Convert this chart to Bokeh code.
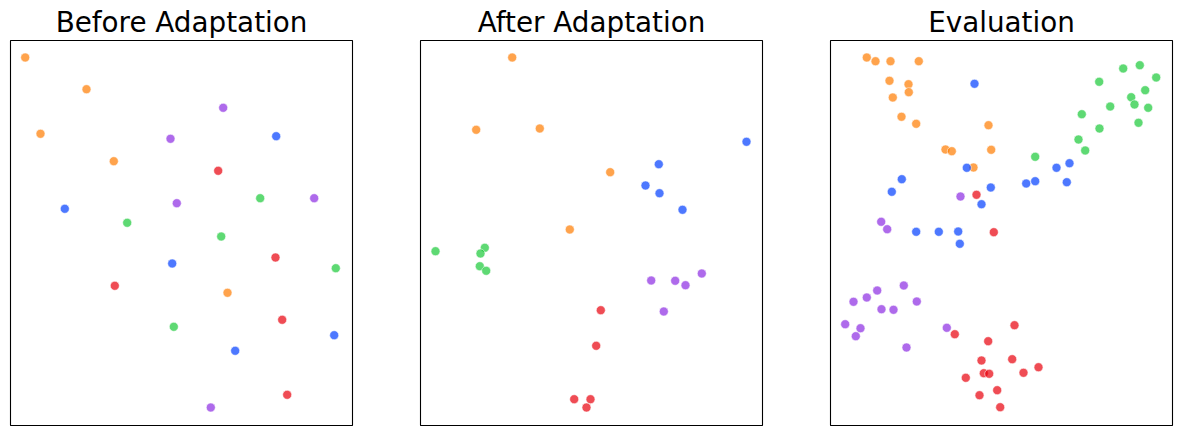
from bokeh.plotting import figure
from bokeh.layouts import row
from bokeh.models import ColumnDataSource, Range1d
from bokeh.transform import factor_cmap
from bokeh.embed import file_html
from bokeh.resources import INLINE

classes = ["blue", "orange", "green", "red", "purple"]
palette = ["#023eff", "#ff7c00", "#1ac938", "#e8000b", "#8b2be2"]
titles = ["Before Adaptation", "After Adaptation", "Evaluation"]

# Panel 1: Before Adaptation
before_x = [14.7, 76.0, 30.0, 103.3, 217.0,
            212.7, 160.0, 166.3, 303.7, 200.3,
            265.7, 54.3, 161.7, 323.7, 224.7,
            207.7, 265.0, 104.3, 271.7, 276.7,
            249.7, 116.7, 210.7, 325.3, 163.3]
before_y = [17.0, 48.7, 93.3, 120.7, 252.3,
            67.3, 98.3, 162.7, 157.7, 367.0,
            95.7, 168.3, 223.0, 294.7, 310.3,
            130.3, 217.0, 245.3, 279.3, 354.3,
            157.7, 182.3, 196.0, 227.7, 286.3]
before_c = (["orange"] * 5 + ["purple"] * 5 + ["blue"] * 5 +
            ["red"] * 5 + ["green"] * 5)

# Panel 2: After Adaptation
after_x = [91.7, 55.7, 119.3, 189.7, 149.3,
           326.0, 238.3, 225.0, 239.0, 262.0,
           15.0, 64.3, 60.0, 59.3, 65.7,
           281.3, 230.7, 254.7, 265.0, 243.3,
           180.3, 175.7, 153.7, 170.0, 166.0]
after_y = [17.0, 89.3, 88.0, 131.7, 189.0,
           101.3, 123.7, 145.0, 152.7, 169.3,
           210.7, 207.3, 213.0, 225.7, 230.3,
           233.0, 240.0, 240.3, 244.7, 271.0,
           269.7, 305.3, 358.7, 358.7, 367.0]
after_c = (["orange"] * 5 + ["blue"] * 5 + ["green"] * 5 +
           ["purple"] * 5 + ["red"] * 5)

# Panel 3: Evaluation
eval_x = [36.3, 45.0, 60.0, 88.3, 59.0, 78.0, 78.3, 62.3, 71.0, 85.7,
          158.0, 115.0, 121.3, 160.7, 143.0,
          144.0, 136.3, 71.3, 61.3, 160.3, 151.0, 85.7, 108.3, 127.7, 129.3,
          195.7, 204.7, 226.0, 239.0, 236.3,
          309.3, 292.7, 325.7, 268.7, 314.7, 300.7, 304.0, 317.7, 279.7, 251.3,
          308.0, 269.0, 248.0, 254.7, 204.7,
          130.0, 50.7, 56.7, 73.3, 46.7, 36.3, 23.0, 86.3, 51.0, 63.0,
          14.7, 30.0, 25.3, 116.3, 76.0,
          146.0, 163.3, 184.0, 124.3, 157.7, 151.0, 181.7, 208.0, 153.3, 158.7,
          193.0, 135.3, 166.7, 149.0, 169.7]
eval_y = [17.0, 20.7, 20.7, 20.7, 40.3, 43.7, 51.7, 57.0, 76.3, 83.3,
          84.7, 109.0, 110.7, 109.3, 127.0,
          43.3, 127.3, 138.7, 151.3, 147.0, 163.7, 191.3, 191.3, 191.0, 203.3,
          143.0, 140.7, 127.3, 122.7, 141.7,
          24.7, 28.0, 37.0, 41.3, 49.7, 56.7, 64.0, 67.3, 66.0, 73.7,
          82.3, 88.0, 99.0, 110.0, 116.3,
          156.0, 181.3, 188.7, 245.0, 250.0, 257.0, 261.3, 261.0, 268.7, 269.3,
          283.7, 287.7, 295.7, 287.3, 307.0,
          154.3, 191.7, 284.7, 293.7, 300.7, 320.0, 318.7, 326.7, 332.7, 333.3,
          332.3, 337.3, 349.7, 354.7, 366.7]
eval_c = (["orange"] * 15 + ["blue"] * 15 + ["green"] * 15 +
          ["purple"] * 15 + ["red"] * 15)

panels = [(before_x, before_y, before_c), (after_x, after_y, after_c),
          (eval_x, eval_y, eval_c)]

figs = []
for i, (xs, ys, cs) in enumerate(panels):
    right = 65 if i < 2 else 4
    p = figure(frame_width=342, frame_height=385, output_backend="svg",
               toolbar_location=None, title=titles[i],
               x_range=Range1d(0, 342), y_range=Range1d(385, 0),
               min_border_left=3, min_border_right=right,
               min_border_top=0, min_border_bottom=2)
    p.title.align = "center"
    p.title.text_font = "DejaVu Sans"
    p.title.text_font_size = "27.8px"
    p.title.text_font_style = "normal"
    p.title.text_color = "black"
    p.title.standoff = 4
    p.xaxis.visible = False
    p.yaxis.visible = False
    p.xgrid.visible = False
    p.ygrid.visible = False
    p.outline_line_color = "black"
    p.outline_line_width = 1.1
    p.outline_line_alpha = 1
    src = ColumnDataSource(dict(x=xs, y=ys, c=cs))
    p.scatter("x", "y", source=src, size=9,
              fill_color=factor_cmap("c", palette, classes),
              fill_alpha=0.7, line_color="white", line_width=0.8,
              line_alpha=0.7)
    figs.append(p)

layout = row(*figs, spacing=0, margin=(1, 0, 0, 7))
open("out.html", "w").write(file_html(layout, INLINE))
